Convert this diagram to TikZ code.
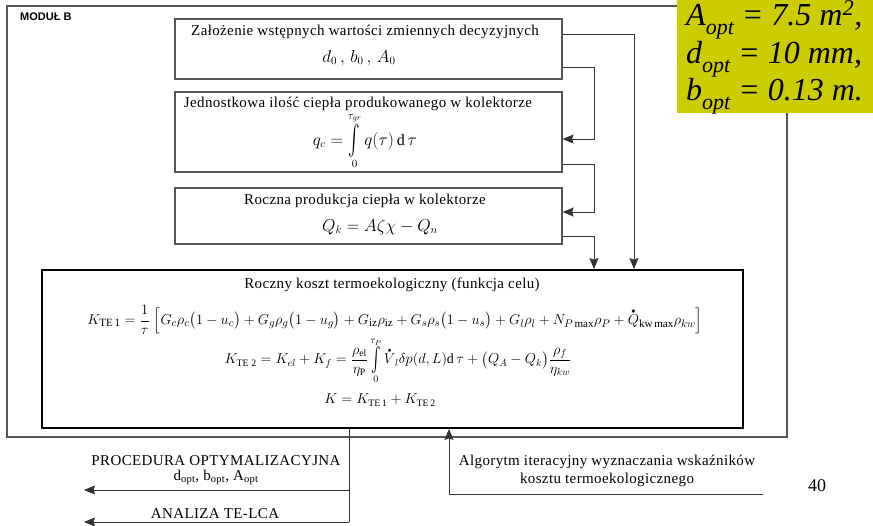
\documentclass[tikz,border=0pt]{standalone}
\usepackage{amsmath}
\usepackage{graphicx}
\usepackage{fontspec}
\setmainfont{Liberation Serif}
\setsansfont{Liberation Sans}
\newfontfamily\txtfam[LetterSpace=2.5]{Liberation Serif}
\usetikzlibrary{arrows.meta}
\definecolor{ybox}{HTML}{CCCC00}
\definecolor{lin}{HTML}{333333}
\definecolor{boxc}{HTML}{555555}
\newcommand\txtf{\txtfam\fontsize{15}{18}\selectfont}
\newcommand\mathf{\fontsize{14}{16}\selectfont}
\newcommand\dotover[1]{\overset{\raisebox{-1.5pt}{$\scriptscriptstyle\bullet$}}{#1}}
\newcommand\tallint{\mathop{\vcenter{\hbox{\scalebox{1}[1.7]{$\textstyle\int$}}}}\limits}
\tikzset{
  line/.style={draw=lin, line width=1pt},
  arr/.style={line, -{Stealth[length=11pt,width=9pt,inset=1.5pt]}},
  box/.style={draw=boxc, line width=1.2pt, rectangle, inner sep=0pt},
  mainbox/.style={draw=black, line width=1.8pt, rectangle, inner sep=0pt},
  txt/.style={inner sep=0pt, font=\txtf},
  mth/.style={inner sep=0pt, font=\mathf},
  yl/.style={inner sep=0pt, anchor=base west, font=\rmfamily\fontsize{32}{36}\selectfont\itshape},
}
\newcommand\subopt{\raisebox{-9pt}{\fontsize{22}{22}\selectfont opt}}
\begin{document}
\begin{tikzpicture}[x=1pt,y=-1pt]
\useasboundingbox (0,0) rectangle (873,525);
% outer frame
\node[box, minimum width=780pt, minimum height=431pt] (outer) at (397,221.5) {};
\node[inner sep=0pt, anchor=base west, font=\sffamily\bfseries\fontsize{11}{12}\selectfont] (modul) at (20,20) {MODUŁ B};
% boxes
\node[box, minimum width=387pt, minimum height=60pt] (b1) at (368.5,49) {};
\node[box, minimum width=387pt, minimum height=80pt] (b2) at (368.5,132) {};
\node[box, minimum width=387pt, minimum height=56pt] (b3) at (368.5,216) {};
\node[mainbox, minimum width=701pt, minimum height=158pt] (main) at (392.5,349) {};
% box texts
\node[txt] (t1) at (365,32) {Założenie wstępnych wartości zmiennych decyzyjnych};
\node[mth, font=\fontsize{16}{18}\selectfont] (m1) at (359,58) {$d_0\,,\,b_0\,,\,A_0$};
\node[txt] (t2) at (358,104) {Jednostkowa ilość ciepła produkowanego w kolektorze};
\node[mth, font=\fontsize{16}{18}\selectfont] (m2) at (365,141) {$\displaystyle q_c=\tallint_0^{\tau_{gr}} q(\tau)\,\mathrm{d}\,\tau$};
\node[txt] (t3) at (365,201) {Roczna produkcja ciepła w kolektorze};
\node[mth, font=\fontsize{16}{18}\selectfont] (m3) at (380,227) {$Q_k=A\zeta\chi-Q_n$};
% main box texts
\node[txt] (t4) at (392,285) {Roczny koszt termoekologiczny (funkcja celu)};
\node[mth, font=\fontsize{15.8}{18}\selectfont] (m4) at (395,320) {$\displaystyle K_{\mathrm{TE\,1}}=\frac{1}{\tau}\;\Bigl[G_c\rho_c\bigl(1-u_c\bigr)+G_g\rho_g\bigl(1-u_g\bigr)+G_{\mathrm{iz}}\rho_{\mathrm{iz}}+G_s\rho_s\bigl(1-u_s\bigr)+G_l\rho_l+N_{P\,\mathrm{max}}\rho_P+\dotover{Q}_{\mathrm{kw\,max}}\rho_{kw}\Bigr]$};
\node[mth] (m5) at (398,361) {$\displaystyle K_{\mathrm{TE\;2}}=K_{el}+K_f=\frac{\rho_{\mathrm{el}}}{\eta_{\mathrm{P}}}\tallint_0^{\tau_P}\dotover{V}_l\delta p(d,L)\mathrm{d}\,\tau+\bigl(Q_A-Q_k\bigr)\frac{\rho_f}{\eta_{kw}}$};
\node[mth] (m6) at (380,400) {$K=K_{\mathrm{TE\,1}}+K_{\mathrm{TE\,2}}$};
% connectors between boxes
\coordinate (c1) at (634,0);
\coordinate (c2) at (594,0);
\draw[arr] ([yshift=15pt]b1.east) -| (c1 |- main.north);
\draw[arr] ([yshift=-18pt]b1.east) -- ++(32,0) |- ([yshift=-7pt]b2.east);
\draw[arr] ([yshift=-32pt]b2.east) -- ++(32,0) |- ([yshift=4pt]b3.east);
\draw[arr] ([yshift=-20pt]b3.east) -| (c2 |- main.north);
% outputs
\coordinate (j1) at (349,490);
\coordinate (j2) at (349,522);
\coordinate (o1) at (84,490);
\coordinate (o2) at (84,522);
\draw[line] (main.south -| j1) -- (j2);
\draw[arr] (j1) -- (o1);
\draw[arr] (j2) -- (o2);
\node[txt] (proc) at (216,461) {PROCEDURA OPTYMALIZACYJNA};
\node[inner sep=0pt, font=\txtfam\fontsize{15}{16}\selectfont] (dopt) at (216,477) {d\textsubscript{opt}, b\textsubscript{opt}, A\textsubscript{opt}};
\node[txt] (anal) at (215,514) {ANALIZA TE-LCA};
% algorithm
\coordinate (a0) at (763,494);
\coordinate (a1) at (449,0);
\draw[arr] (a0) -| (a1 |- main.south);
\node[txt, align=center] (alg) at (607,471) {Algorytm iteracyjny wyznaczania wskaźników\\kosztu termoekologicznego};
\node[inner sep=0pt, font=\fontsize{18}{20}\selectfont] (page) at (817,486) {40};
% yellow box
\fill[ybox] (677,0) rectangle (873,113);
\node[yl] (y1) at (686,25) {A\subopt{} = 7.5 m\textsuperscript{2},};
\node[yl] (y2) at (686,63) {d\subopt{} = 10 mm,};
\node[yl] (y3) at (686,100) {b\subopt{} = 0.13 m.};
\end{tikzpicture}
\end{document}
